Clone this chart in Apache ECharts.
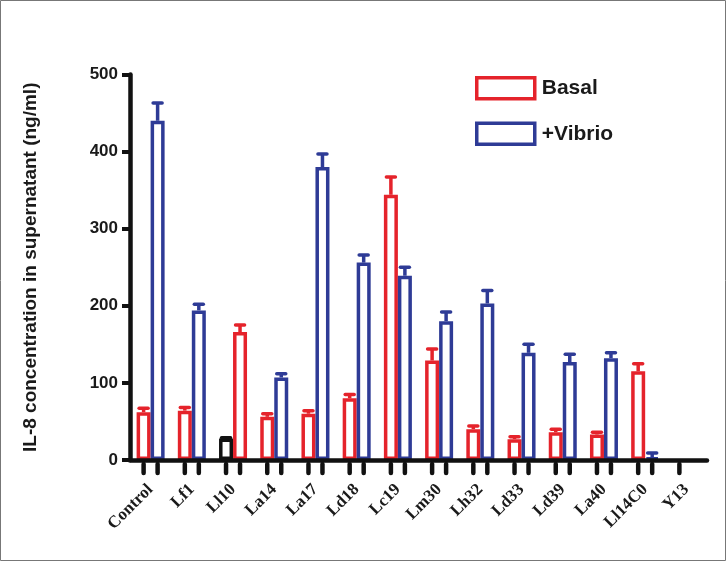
<!DOCTYPE html>
<html>
<head>
<meta charset="utf-8">
<script src="https://cdn.jsdelivr.net/npm/echarts@6/dist/echarts.min.js"></script>
<style>
html,body{margin:0;padding:0;background:#fff;}
#chart{width:726px;height:561px;}
</style>
</head>
<body>
<div id="chart"></div>
<script>
// ---- data ----
var categories = ['Control','Lf1','Ll10','La14','La17','Ld18','Lc19','Lm30','Lh32','Ld33','Ld39','La40','Ll14C0','Y13'];
var basal      = [62, 64, 28, 56, 60, 80, 344, 129, 40, 27, 36, 33, 115, null];
var basalErr   = [5, 4, 1, 4, 4, 5, 23, 15, 4, 3, 4, 3, 10, null];
var vibrio     = [440, 194, 166, 107, 380, 256, 239, 180, 203, 139, 127, 132, 3, null];
var vibrioErr  = [23, 8, 9, 5, 17, 10, 11, 12, 17, 11, 10, 7, 6, null];
var yTicks     = [0, 100, 200, 300, 400, 500];

// ---- style ----
var RED = '#e5232b', BLUE = '#2e3b96', BLACK = '#111111';
var BAR_W = 14;
// per-category colour overrides (as drawn in the reference)
var basalColor  = categories.map(function (c, i) { return i === 2 ? BLACK : RED; });
var vibrioColor = categories.map(function (c, i) { return i === 2 ? RED : BLUE; });

var chart = echarts.init(document.getElementById('chart'));

function barData(vals, colors) {
  return vals.map(function (v, i) {
    return { value: v, itemStyle: { borderColor: colors[i] } };
  });
}
function errData(vals, errs) {
  return vals.map(function (v, i) { return [i, v == null ? 0 : v, errs[i] == null ? 0 : errs[i], v == null ? 0 : 1]; });
}
function errRender(offset, colors) {
  return function (params, api) {
    if (!api.value(3)) return null;
    var i = api.value(0), v = api.value(1), e = api.value(2);
    var top = api.coord([i, v]);
    var cap = api.coord([i, v + e]);
    var x = top[0] + offset;
    var col = colors[i];
    return {
      type: 'group',
      children: [
        { type: 'line', shape: { x1: x, y1: top[1], x2: x, y2: cap[1] }, style: { stroke: col, lineWidth: 3.5 } },
        { type: 'line', shape: { x1: x - 4.5, y1: cap[1], x2: x + 4.5, y2: cap[1] }, style: { stroke: col, lineWidth: 3.5, lineCap: 'round' } }
      ]
    };
  };
}
function tickRender(offset) {
  return function (params, api) {
    if (!api.value(1)) return null;
    var p = api.coord([api.value(0), 0]);
    var x = p[0] + offset;
    return { type: 'line', shape: { x1: x, y1: p[1] + 4, x2: x, y2: p[1] + 13 }, style: { stroke: BLACK, lineWidth: 4.5, lineCap: 'round' } };
  };
}
var basalTicks  = categories.map(function (c, i) { return [i, 1]; });
var vibrioTicks = categories.map(function (c, i) { return [i, vibrio[i] == null ? 0 : 1]; });

chart.setOption({
  animation: false,
  backgroundColor: '#fff',
  graphic: [{
    type: 'rect', shape: { x: 0.5, y: 0.5, width: 725, height: 560 },
    style: { fill: 'none', stroke: '#777', lineWidth: 1 }, silent: true, z: 100
  }],
  grid: { left: 130, top: 74.5, width: 577, height: 385.5, containLabel: false },
  legend: {
    data: ['Basal', '+Vibrio'],
    orient: 'vertical', left: 470, top: 71,
    itemWidth: 58, itemHeight: 21, itemGap: 21,
    icon: 'rect',
    itemStyle: { color: '#fff', borderWidth: 3.5 },
    textStyle: { fontFamily: 'Liberation Sans', fontWeight: 'bold', fontSize: 21, color: '#1a1a1a', padding: [0, 0, 0, 2] }
  },
  xAxis: {
    type: 'category', data: categories, z: 10,
    axisLine: { lineStyle: { color: BLACK, width: 4.5 } },
    axisTick: { show: false },
    axisLabel: {
      interval: 0, rotate: 45, margin: 27,
      fontFamily: 'Liberation Serif', fontWeight: 'bold', fontSize: 17, color: '#1a1a1a'
    }
  },
  yAxis: {
    type: 'value', min: yTicks[0], max: yTicks[yTicks.length - 1], interval: yTicks[1] - yTicks[0], z: 10,
    name: 'IL-8 concentration in supernatant (ng/ml)',
    nameLocation: 'middle', nameGap: 90,
    nameTextStyle: { fontFamily: 'Liberation Sans', fontWeight: 'bold', fontSize: 19, color: '#1a1a1a' },
    axisLine: { show: true, lineStyle: { color: BLACK, width: 4.5 } },
    axisTick: { show: true, length: 8, lineStyle: { color: BLACK, width: 4 } },
    axisLabel: { margin: 12, fontFamily: 'Liberation Sans', fontWeight: 'bold', fontSize: 17, color: '#1a1a1a' },
    splitLine: { show: false }
  },
  series: [
    { name: 'Basal', type: 'bar', barWidth: BAR_W, barGap: 0,
      itemStyle: { color: '#fff', borderColor: RED, borderWidth: 3.5 },
      data: barData(basal, basalColor) },
    { name: '+Vibrio', type: 'bar', barWidth: BAR_W, barGap: 0,
      itemStyle: { color: '#fff', borderColor: BLUE, borderWidth: 3.5 },
      data: barData(vibrio, vibrioColor) },
    { name: 'basalErr', type: 'custom', renderItem: errRender(-BAR_W / 2, basalColor), data: errData(basal, basalErr), z: 3 },
    { name: 'vibrioErr', type: 'custom', renderItem: errRender(BAR_W / 2, vibrioColor), data: errData(vibrio, vibrioErr), z: 3 },
    { name: 'basalTick', type: 'custom', renderItem: tickRender(-BAR_W / 2), data: basalTicks, z: 11, clip: false },
    { name: 'vibrioTick', type: 'custom', renderItem: tickRender(BAR_W / 2), data: vibrioTicks, z: 11, clip: false }
  ]
});
</script>
</body>
</html>
